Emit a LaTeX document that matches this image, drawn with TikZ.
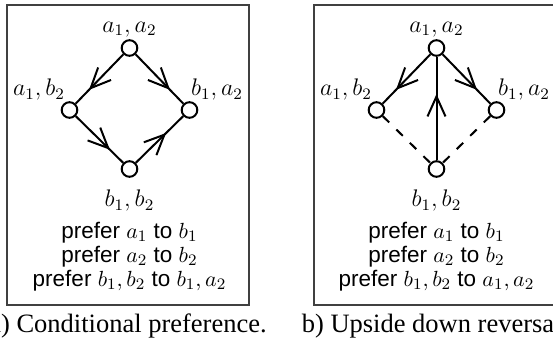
\documentclass[tikz,border=0pt]{standalone}
\usepackage{fontspec}
\setmainfont{Liberation Serif}
\setsansfont{Liberation Sans}
\usetikzlibrary{arrows.meta,positioning,decorations.markings}
\tikzset{
  state/.style   = {draw, circle, line width=1pt, minimum size=7.8pt,
                    inner sep=0pt, fill=white},
  lab/.style     = {inner sep=0pt, font=\fontsize{11.5}{12}\selectfont},
  pref/.style    = {inner sep=0pt, align=center,
                    font=\fontsize{11.25}{12}\selectfont\sffamily},
  caption/.style = {inner sep=0pt, anchor=base,
                    font=\fontsize{13.25}{15}\selectfont},
  panel/.style   = {draw=black!75, line width=0.75pt},
  edge/.style    = {line width=1pt},
  mid arrow/.style = {edge, postaction={decorate},
    decoration={markings, mark=at position #1 with
      {\arrow{Straight Barb[length=10pt,width=9pt]}}}}
}

\begin{document}
\begin{tikzpicture}[x=0.5pt, y=-0.5pt]
\useasboundingbox (0,0) rectangle (553,348);
\clip (0,0) rectangle (553,348);

% a) conditional preference, the diamond of states
\draw[panel] (7,5) rectangle (249,305);
\node[state] (t1) at (129.5,48) {};
\node[state, on grid, below left=31pt and 30pt of t1] (l1) {};
\node[state, on grid, below right=31pt and 30pt of t1] (r1) {};
\node[state, on grid, below=60.5pt of t1] (d1) {};

\node[lab, above=1pt of t1] (t1lab) {$a_1,a_2$};
\node[lab, above left=1.5pt and -1pt of l1] (l1lab) {$a_1,b_2$};
\node[lab, above right=1.5pt and -2.5pt of r1] (r1lab) {$b_1,a_2$};
\node[lab, below=6pt of d1] (d1lab) {$b_1,b_2$};

\draw[mid arrow=0.72] (t1) -- (l1);
\draw[mid arrow=0.72] (t1) -- (r1);
\draw[mid arrow=0.72] (l1) -- (d1);
\draw[mid arrow=0.64] (d1) -- (r1);

\node[pref, anchor=north] (p1) at (129.5,222)
  {prefer $a_1$ to $b_1$\\ prefer $a_2$ to $b_2$\\ prefer $b_1,b_2$ to $b_1,a_2$};
\node[caption] (cap1) at (128,332) {a) Conditional preference.};

% b) upside down reversal, same states shifted right
\begin{scope}[xshift=153.5pt]
\draw[panel] (7,5) rectangle (249,305);
\node[state] (t2) at (129.5,48) {};
\node[state, on grid, below left=31pt and 30pt of t2] (l2) {};
\node[state, on grid, below right=31pt and 30pt of t2] (r2) {};
\node[state, on grid, below=60.5pt of t2] (d2) {};

\node[lab, above=1pt of t2] (t2lab) {$a_1,a_2$};
\node[lab, above left=1.5pt and -1pt of l2] (l2lab) {$a_1,b_2$};
\node[lab, above right=1.5pt and -2.5pt of r2] (r2lab) {$b_1,a_2$};
\node[lab, below=6pt of d2] (d2lab) {$b_1,b_2$};

\draw[mid arrow=0.72] (t2) -- (l2);
\draw[mid arrow=0.72] (t2) -- (r2);
\draw[mid arrow=0.64] (d2) -- (t2);
\draw[edge, dash pattern=on 4.5pt off 5pt] (l2) -- (d2);
\draw[edge, dash pattern=on 4.5pt off 5pt] (r2) -- (d2);

\node[pref, anchor=north] (p2) at (129.5,222)
  {prefer $a_1$ to $b_1$\\ prefer $a_2$ to $b_2$\\ prefer $b_1,b_2$ to $a_1,a_2$};
\node[caption] (cap2) at (128,332) {b) Upside down reversal.};
\end{scope}
\end{tikzpicture}
\end{document}
